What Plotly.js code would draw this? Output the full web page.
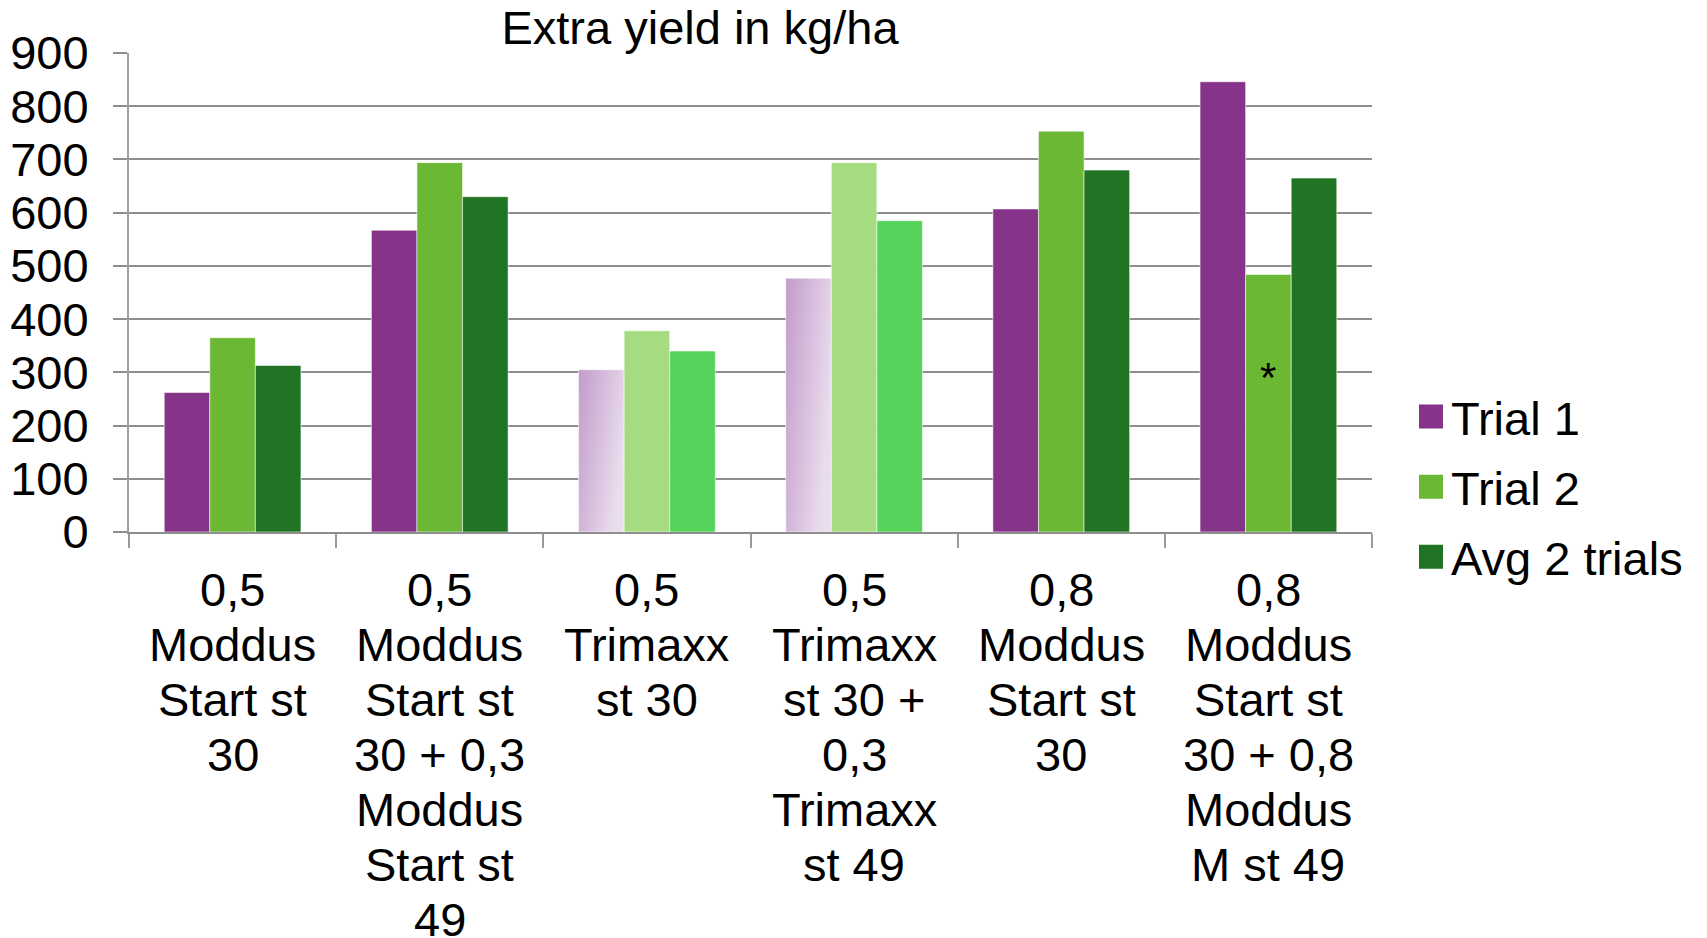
<!DOCTYPE html>
<html>
<head>
<meta charset="utf-8">
<script src="https://cdn.plot.ly/plotly-3.0.1.min.js"></script>
<style>
  html, body { margin: 0; padding: 0; background: #fff; }
  #chart { width: 1707px; height: 938px; }
</style>
</head>
<body>
<div id="chart"></div>
<script>
// ---- data ----
const categories = [
  "0,5<br>Moddus<br>Start st<br>30",
  "0,5<br>Moddus<br>Start st<br>30 + 0,3<br>Moddus<br>Start st<br>49",
  "0,5<br>Trimaxx<br>st 30",
  "0,5<br>Trimaxx<br>st 30 +<br>0,3<br>Trimaxx<br>st 49",
  "0,8<br>Moddus<br>Start st<br>30",
  "0,8<br>Moddus<br>Start st<br>30 + 0,8<br>Moddus<br>M st 49"
];
const seriesNames = ["Trial 1", "Trial 2", "Avg 2 trials"];
const trial1 = [262, 567, 305, 477, 607, 846];
const trial2 = [365, 694, 378, 694, 753, 484];
const avg2   = [313, 630, 340, 585, 680, 665];
const yTicks = [0, 100, 200, 300, 400, 500, 600, 700, 800, 900];
const titleText = "Extra yield in kg/ha";
const noteText = "*";
const noteValue = 300;
const noteCategoryIndex = 5;
// categories drawn in faded colours
const fadedIdx = [2, 3];

// ---- styles ----
const FONT = '"Liberation Sans", Arial, sans-serif';
const FS = 47;
const solid = ["#86348a", "#6ab833", "#217423"];
const faded = ["#d3b9da", "#a6dc80", "#55d35a"];
function colorsFor(s) {
  return categories.map((c, i) => fadedIdx.includes(i) ? faded[s] : solid[s]);
}
const seriesVals = [trial1, trial2, avg2];
const traces = seriesVals.map((vals, s) => ({
  type: 'bar',
  name: seriesNames[s],
  x: categories,
  y: vals,
  legendgroup: 'g' + s,
  marker: { color: colorsFor(s), line: { color: 'rgba(255,255,255,0.55)', width: 1 } },
  hoverinfo: 'none'
}));

// category labels drawn line by line (tighter line spacing than Plotly ticks)
const annotations = [];
categories.forEach(cat => {
  cat.split('<br>').forEach((line, i) => {
    annotations.push({
      x: cat, xref: 'x', y: 0, yref: 'paper',
      text: line, showarrow: false,
      xanchor: 'center', yanchor: 'middle',
      yshift: -57 - 55 * i,
      font: { family: FONT, size: FS, color: '#000' }
    });
  });
});
annotations.push({
  x: categories[noteCategoryIndex], xref: 'x', y: noteValue, yref: 'y',
  text: noteText, showarrow: false, xanchor: 'center', yanchor: 'middle',
  yshift: -5,
  font: { family: FONT, size: 42, color: '#000' }
});

const layout = {
  width: 1707, height: 938,
  margin: { l: 129, r: 335, t: 53, b: 406, pad: 0 },
  paper_bgcolor: '#fff', plot_bgcolor: '#fff',
  font: { family: FONT, size: FS, color: '#000' },
  title: {
    text: titleText, xref: 'container', x: 700 / 1707, xanchor: 'center',
    yref: 'container', y: 1 - 28 / 938, yanchor: 'middle',
    font: { family: FONT, size: FS, color: '#000' }
  },
  barmode: 'group', bargap: 0.34, bargroupgap: 0,
  showlegend: true,
  legend: {
    xref: 'container', x: 1411 / 1707, xanchor: 'left',
    yref: 'container', y: 1 - 487 / 938, yanchor: 'middle',
    font: { family: FONT, size: FS, color: '#000' },
    bgcolor: 'rgba(0,0,0,0)', borderwidth: 0,
    traceorder: 'grouped', tracegroupgap: 6
  },
  xaxis: {
    type: 'category',
    showticklabels: false,
    showgrid: false, zeroline: false,
    showline: true, linecolor: '#8e8e8e', linewidth: 2,
    ticks: 'outside', tickson: 'boundaries', ticklen: 14, tickwidth: 2, tickcolor: '#9a9a9a',
    fixedrange: true
  },
  yaxis: {
    range: [0, 900], tickvals: yTicks, ticktext: yTicks.map(String),
    showgrid: true, gridcolor: '#8e8e8e', gridwidth: 2,
    zeroline: false,
    showline: true, linecolor: '#a0a0a0', linewidth: 2,
    ticks: 'outside', ticklen: 14, tickwidth: 2, tickcolor: '#8e8e8e',
    ticklabelstandoff: 15,
    tickfont: { family: FONT, size: FS, color: '#000' },
    fixedrange: true
  },
  annotations: annotations
};

Plotly.newPlot('chart', traces, layout, { displayModeBar: false, staticPlot: true }).then(() => {
  const NS = 'http://www.w3.org/2000/svg';
  const svg = document.querySelector('#chart .main-svg');
  let defs = svg.querySelector('defs');
  if (!defs) { defs = document.createElementNS(NS, 'defs'); svg.insertBefore(defs, svg.firstChild); }
  const grad = document.createElementNS(NS, 'linearGradient');
  grad.setAttribute('id', 'fadedPurple');
  grad.setAttribute('x1', '0'); grad.setAttribute('y1', '0');
  grad.setAttribute('x2', '1'); grad.setAttribute('y2', '0.45');
  [['0', '#c39bcb'], ['1', '#e9dded']].forEach(([o, c]) => {
    const st = document.createElementNS(NS, 'stop');
    st.setAttribute('offset', o); st.setAttribute('stop-color', c);
    grad.appendChild(st);
  });
  defs.appendChild(grad);
  const barTraces = document.querySelectorAll('#chart .barlayer .trace');
  if (barTraces[0]) {
    const pts = barTraces[0].querySelectorAll('.point path');
    fadedIdx.forEach(i => { if (pts[i]) pts[i].style.fill = 'url(#fadedPurple)'; });
  }
  document.querySelectorAll('#chart .legendpoints path').forEach(p => {
    p.setAttribute('d', 'M12,12H-12V-12H12Z');
    p.style.strokeWidth = '0';
  });
});
</script>
</body>
</html>
